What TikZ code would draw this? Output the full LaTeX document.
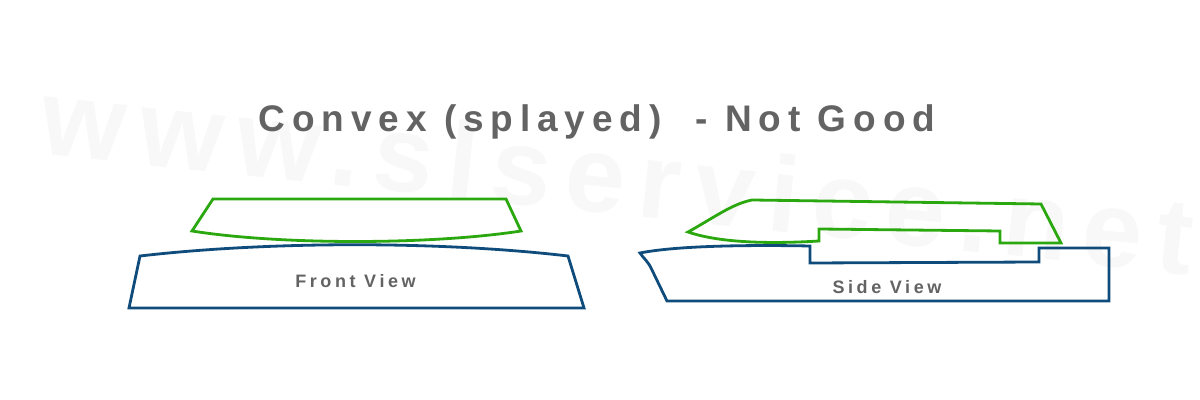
\documentclass[tikz,border=0pt]{standalone}
\usepackage{fontspec}
\setmainfont{Liberation Sans}
\newfontfamily\titlefont[LetterSpace=18.6]{Liberation Sans Bold}
\newfontfamily\labelfont[LetterSpace=20]{Liberation Sans Bold}
\newfontfamily\markfont[LetterSpace=13]{Liberation Sans Bold}
\definecolor{shoegreen}{HTML}{2BA80F}
\definecolor{lastblue}{HTML}{0F4C7C}
\definecolor{inkgray}{HTML}{636363}
\definecolor{markgray}{HTML}{F8F8F8}
\tikzset{
  upper/.style={draw=shoegreen,line width=1.4pt,line join=miter,fill=none},
  lower/.style={draw=lastblue,line width=1.4pt,line join=miter,fill=none},
  viewlabel/.style={text=inkgray,inner sep=0pt,font=\labelfont\fontsize{9}{11}\selectfont},
}
\begin{document}
\begin{tikzpicture}[x=0.5pt,y=-0.5pt]
\useasboundingbox (0,0) rectangle (1200,400);
\fill[white] (0,0) rectangle (1200,400);
\node[text=markgray,inner sep=0pt,rotate=-6,anchor=center,font=\markfont\fontsize{54}{58}\selectfont] (mark) at (618,176) {www.slservice.net};
\node[text=inkgray,inner sep=0pt,font=\titlefont\fontsize{18.5}{23}\selectfont] (title) at (597,122) {Convex (splayed)\ \ - Not Good};
% front view
\draw[upper] (213,199) -- (506,199) -- (521,231) .. controls (430,245) and (280,245) .. (192,231) -- cycle;
\draw[lower] (140,256) .. controls (270,241) and (440,241) .. (568,256) -- (584,308) -- (129,308) -- cycle;
\node[viewlabel] (front) at (355.5,281) {Front View};
% side view
\draw[upper] (688,232) .. controls (715,217) and (732,204) .. (752,200) -- (1041,204) -- (1061,243) -- (1000,243) -- (1000,231) -- (819,229) -- (819,241) .. controls (770,244) and (720,243) .. cycle;
\draw[lower] (640,253) .. controls (680,245) and (760,245) .. (810,246) -- (810,263) -- (1039,262) -- (1039,248) -- (1109,248) -- (1109,301) -- (667,301) -- (652,270) .. controls (648,261) and (644,259) .. cycle;
\node[viewlabel] (side) at (887,287) {Side View};
\end{tikzpicture}
\end{document}
